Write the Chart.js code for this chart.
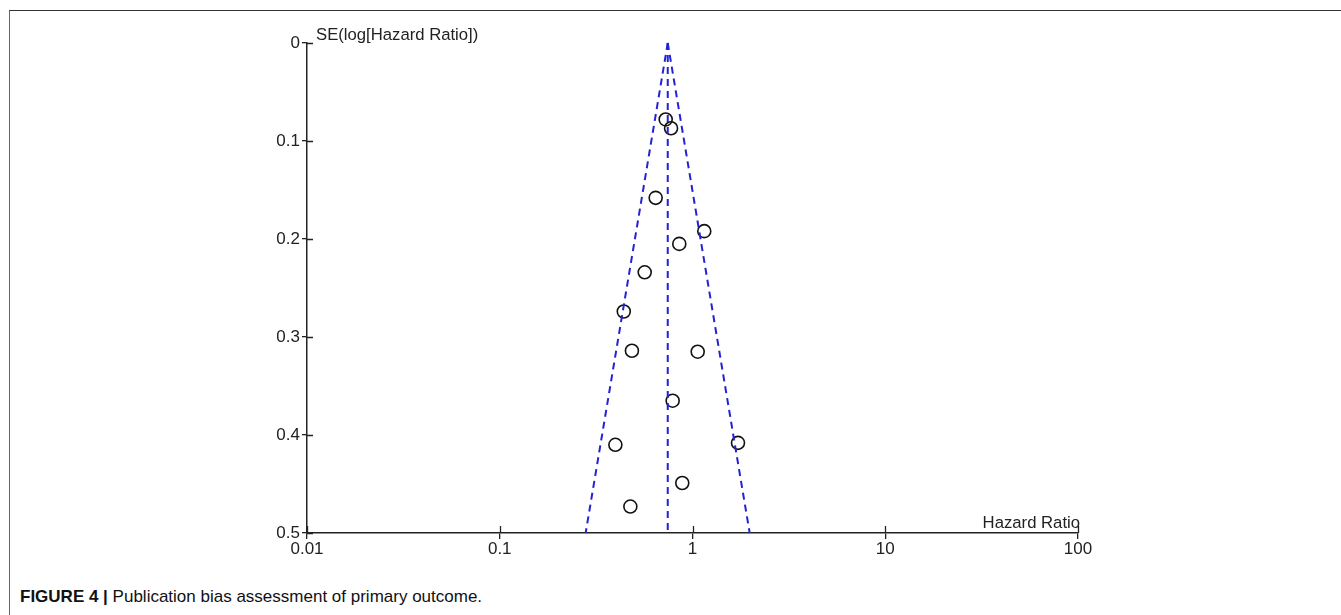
<!DOCTYPE html>
<html>
<head>
<meta charset="utf-8">
<script src="https://cdn.jsdelivr.net/npm/chart.js@4.4.1/dist/chart.umd.min.js"></script>
<style>
  body { margin: 0; background: #fff; width: 1341px; height: 615px; overflow: hidden; position: relative; }
  #frame { position: absolute; left: 9px; top: 10px; width: 1340px; height: 610px;
           border-top: 1px solid #333; border-left: 1px solid #666; }
  #wrap { position: absolute; left: 0; top: 0; width: 1341px; height: 565px; }
  #caption { position: absolute; left: 20px; top: 587px; font-family: "Liberation Sans", Arial, sans-serif;
             font-size: 17px; color: #111; white-space: nowrap; }
  #caption b { font-weight: bold; font-size: 17px; }
</style>
</head>
<body>
<div id="frame"></div>
<div id="wrap"><canvas id="funnel" width="1341" height="565"></canvas></div>
<div id="caption"><b>FIGURE 4 |</b> Publication bias assessment of primary outcome.</div>
<script>
// study estimates
var hazardRatio = [0.726, 0.774, 0.644, 1.151, 0.854, 0.565, 0.440, 0.485, 1.064, 0.789, 0.398, 1.722, 0.885, 0.476];
var seLogHR = [0.078, 0.087, 0.158, 0.192, 0.205, 0.234, 0.274, 0.314, 0.315, 0.365, 0.410, 0.408, 0.449, 0.473];

// pooled estimate and funnel limits (as drawn)
var pooledHR = 0.744;
var funnelSE = [0, 0.5];
var funnelLow = [0.744, 0.279];
var funnelHigh = [0.744, 1.98];

var xTicks = [0.01, 0.1, 1, 10, 100];
var yTicks = [0, 0.1, 0.2, 0.3, 0.4, 0.5];

var blue = '#2222d6';
var ink = '#222';
var font = { family: 'Liberation Sans, Arial, sans-serif', size: 17 };

var studies = hazardRatio.map(function (v, i) { return { x: v, y: seLogHR[i] }; });
var lowLine = funnelSE.map(function (s, i) { return { x: funnelLow[i], y: s }; });
var highLine = funnelSE.map(function (s, i) { return { x: funnelHigh[i], y: s }; });
var midLine = funnelSE.map(function (s) { return { x: pooledHR, y: s }; });

function dashed(data) {
  return {
    data: data, showLine: true, borderColor: blue, borderWidth: 2,
    borderDash: [7, 5], pointRadius: 0, fill: false, clip: false
  };
}

// inner half of the tick marks + axis captions
var extras = {
  id: 'extras',
  afterDraw: function (chart) {
    var c = chart.ctx, a = chart.chartArea;
    var xs = chart.scales.x, ys = chart.scales.y;
    c.save();
    c.strokeStyle = ink;
    c.lineWidth = 1.3;
    c.beginPath();
    yTicks.forEach(function (t) {
      var y = Math.round(ys.getPixelForValue(t)) + 0.5;
      c.moveTo(a.left, y); c.lineTo(a.left + 6, y);
    });
    xTicks.forEach(function (t) {
      var x = Math.round(xs.getPixelForValue(t)) + 0.5;
      c.moveTo(x, a.bottom); c.lineTo(x, a.bottom - 7);
    });
    c.stroke();
    c.fillStyle = ink;
    c.font = '16.7px ' + font.family;
    c.textBaseline = 'alphabetic';
    c.textAlign = 'left';
    c.fillText('SE(log[Hazard Ratio])', a.left + 9, 40);
    c.textAlign = 'right';
    c.fillText('Hazard Ratio', a.right + 2, a.bottom - 5);
    c.restore();
  }
};

new Chart(document.getElementById('funnel'), {
  type: 'scatter',
  data: {
    datasets: [
      dashed(lowLine),
      dashed(highLine),
      dashed(midLine),
      {
        data: studies, pointStyle: 'circle', pointRadius: 6.5, pointHoverRadius: 6.5,
        pointBackgroundColor: 'rgba(0,0,0,0)', pointBorderColor: '#111', pointBorderWidth: 1.6,
        showLine: false, clip: false
      }
    ]
  },
  options: {
    responsive: false,
    animation: false,
    events: [],
    layout: { padding: { left: 267, right: 263, top: 43, bottom: 4 } },
    plugins: { legend: { display: false }, tooltip: { enabled: false } },
    scales: {
      x: {
        type: 'logarithmic', min: 0.01, max: 100,
        afterBuildTicks: function (s) { s.ticks = xTicks.map(function (v) { return { value: v }; }); },
        afterFit: function (s) { s.height = 28; },
        grid: { drawOnChartArea: false, drawTicks: true, tickLength: 6, color: ink, lineWidth: 1.3 },
        border: { display: true, color: ink, width: 1.5 },
        ticks: {
          autoSkip: false, maxRotation: 0, padding: 0, color: ink, font: font,
          callback: function (v) { return String(v); }
        }
      },
      y: {
        type: 'linear', reverse: true, min: 0, max: 0.5,
        afterBuildTicks: function (s) { s.ticks = yTicks.map(function (v) { return { value: v }; }); },
        afterFit: function (s) { s.width = 40; },
        grid: { drawOnChartArea: false, drawTicks: true, tickLength: 5, color: ink, lineWidth: 1.3 },
        border: { display: true, color: ink, width: 1.5 },
        ticks: {
          autoSkip: false, padding: 2, color: ink, font: font,
          callback: function (v) { return v === 0 ? '0' : String(+v.toFixed(1)); }
        }
      }
    }
  },
  plugins: [extras]
});
</script>
</body>
</html>
